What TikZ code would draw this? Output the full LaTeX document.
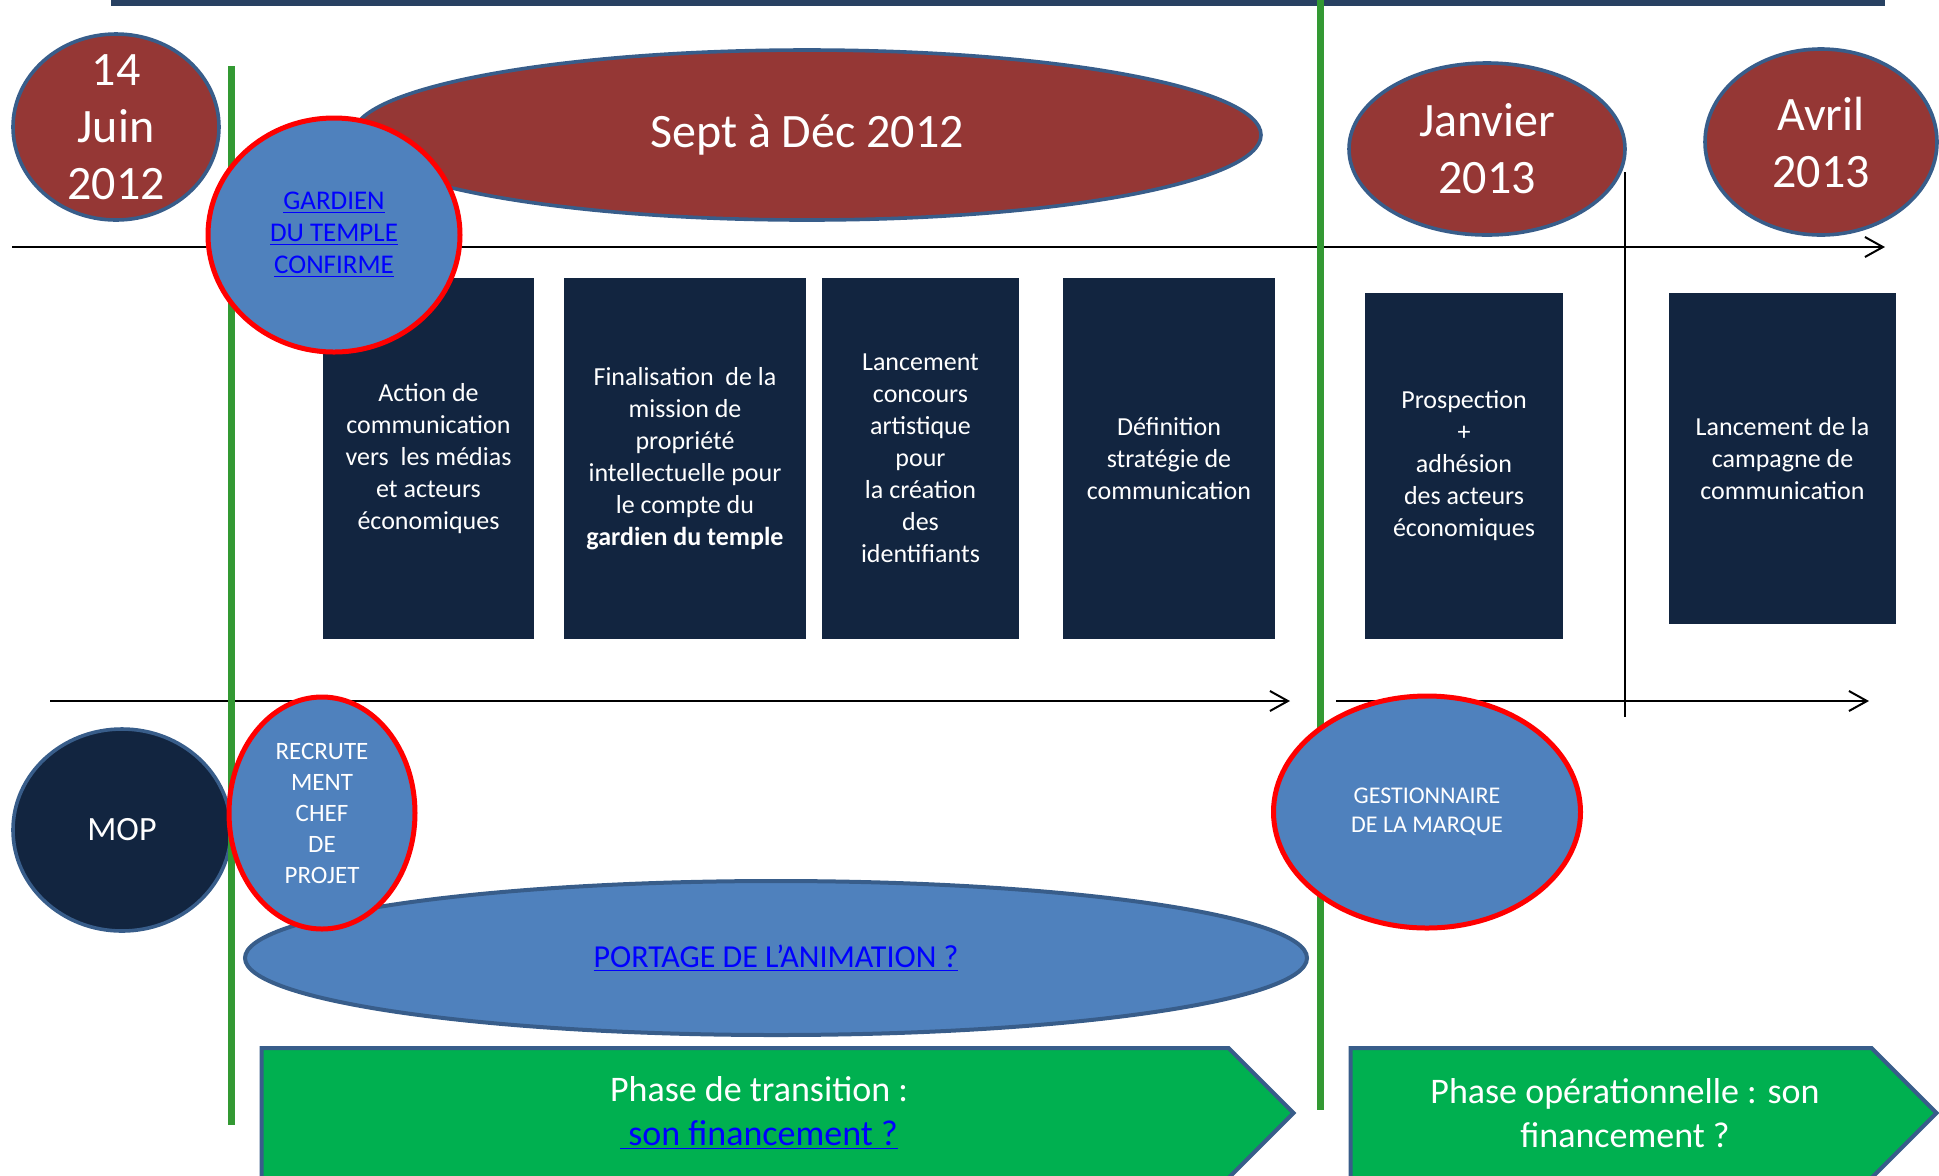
\documentclass[tikz,border=0pt]{standalone}
\usepackage{fontspec}
\setmainfont{Carlito}
\usetikzlibrary{shapes.geometric,shapes.symbols,arrows.meta}

\definecolor{datered}{RGB}{149,55,53}
\definecolor{rimblue}{RGB}{56,93,138}
\definecolor{softblue}{RGB}{79,129,189}
\definecolor{navy}{RGB}{18,37,64}
\definecolor{phasegreen}{RGB}{0,176,80}
\definecolor{linegreen}{RGB}{51,153,51}
\definecolor{barblue}{RGB}{40,65,98}
\definecolor{linkblue}{RGB}{0,0,255}

\newcommand{\lnk}[1]{\underline{#1}}

\tikzset{
  bubble/.style={ellipse,fill=datered,draw=rimblue,line width=1.8pt,inner sep=0pt},
  bubtext/.style={text=white,align=center,inner sep=0pt,font=\fontsize{24}{28.5}\selectfont},
  actor/.style={ellipse,fill=softblue,draw=red,line width=2.5pt,inner sep=0pt,align=center},
  taskbox/.style={fill=navy,text=white,align=center,inner sep=0pt,font=\fontsize{13}{16}\selectfont},
  phase/.style={signal,signal to=east,signal pointer angle=90,fill=phasegreen,draw=rimblue,
    line width=2pt,inner sep=0pt},
  phasetext/.style={text=white,align=center,inner sep=0pt,font=\fontsize{18}{22}\selectfont},
  guide/.style={linegreen,line width=3.5pt},
}

\begin{document}
\begin{tikzpicture}
        [x=0.5pt,y=-0.5pt,>={Straight Barb[length=9pt,width=10pt]}]
        \useasboundingbox (0,0) rectangle (1939,1175);

        \coordinate (top0) at (12,247);
        \coordinate (top1) at (1885,247);
        \coordinate (mid0) at (50,701);
        \coordinate (mid1) at (1290,701);
        \coordinate (mid2) at (1336,701);
        \coordinate (mid3) at (1869,701);
        \coordinate (tick0) at (1625,172);
        \coordinate (tick1) at (1625,717);
        \coordinate (g1a) at (231,66);
        \coordinate (g1b) at (231,1125);
        \coordinate (g2a) at (1320,0);
        \coordinate (g2b) at (1320,1110);

        \fill[barblue] (111,0) rectangle (1885,6);

        \draw[->,line width=1pt] (top0) -- (top1);
        \draw[->,line width=1pt] (mid0) -- (mid1);
        \draw[->,line width=1pt] (mid2) -- (mid3);
        \draw[line width=0.8pt] (tick0) -- (tick1);

        \node[bubble,minimum width=454pt,minimum height=85pt] (sept) at (807,135) {};
        \node[bubtext] (sept-t) at (sept) {Sept à Déc 2012};
        \node[bubble,minimum width=103pt,minimum height=93pt] (juin) at (116,127) {};
        \node[bubtext] (juin-t) at (juin) {14\\Juin\\2012};
        \node[bubble,minimum width=138pt,minimum height=86pt] (janv) at (1487,149) {};
        \node[bubtext] (janv-t) at (janv) {Janvier\\2013};
        \node[bubble,minimum width=116pt,minimum height=93pt] (avril) at (1821,142) {};
        \node[bubtext] (avril-t) at (avril) {Avril\\2013};

        \node[taskbox,minimum width=105.5pt,minimum height=180.5pt] (action) at (428.5,458.5)
          {Action de\\communication\\vers~ les médias\\et acteurs\\économiques};
        \node[taskbox,minimum width=121pt,minimum height=180.5pt] (finale) at (685,458.5)
          {Finalisation~ de la\\mission de\\propriété\\intellectuelle pour\\le compte du\\\textbf{gardien du temple}};
        \node[taskbox,minimum width=98.5pt,minimum height=180.5pt] (concours) at (920.5,458.5)
          {Lancement\\concours\\artistique\\pour\\la création\\des\\identifiants};
        \node[taskbox,minimum width=106pt,minimum height=180.5pt] (strat) at (1169,458.5)
          {Définition\\stratégie de\\communication};
        \node[taskbox,minimum width=99pt,minimum height=173pt] (prosp) at (1464,466)
          {Prospection\\+\\adhésion\\des acteurs\\économiques};
        \node[taskbox,minimum width=113.5pt,minimum height=165.5pt] (campagne) at (1782.5,458.5)
          {Lancement de la\\campagne de\\communication};

        \node[ellipse,fill=navy,draw=rimblue,line width=1.8pt,minimum width=109pt,minimum height=101pt,
          text=white,font=\fontsize{17}{20}\selectfont] (mop) at (122,830) {MOP};

        \draw[guide] (g1a) -- (g1b);
        \draw[guide] (g2a) -- (g2b);

        \node[actor,minimum width=126pt,minimum height=117pt,text=linkblue,
          font=\fontsize{13.5}{16}\selectfont] (gardien) at (334,235)
          {\lnk{GARDIEN}\\\lnk{DU TEMPLE}\\\lnk{CONFIRME}};

        \node[ellipse,fill=softblue,draw=rimblue,line width=2pt,minimum width=531pt,minimum height=77pt,
          text=linkblue,font=\fontsize{16}{20}\selectfont] (portage) at (776,958)
          {\lnk{PORTAGE DE L’ANIMATION ?}};
        \node[actor,minimum width=93pt,minimum height=116pt,text=white,
          font=\fontsize{12.5}{15.5}\selectfont] (recrute) at (322,813)
          {RECRUTE\\MENT\\CHEF\\DE\\PROJET};
        \node[actor,minimum width=153.5pt,minimum height=116pt,text=white,
          font=\fontsize{12}{14.5}\selectfont] (gestion) at (1427,812)
          {GESTIONNAIRE\\DE LA MARQUE};

        \node[phase,minimum width=516pt,minimum height=65pt] (transit) at (745,1113) {};
        \node[phasetext] (transit-t) at ([xshift=7pt]transit.center)
          {Phase de transition :\\\textcolor{linkblue}{\lnk{~son financement ?}}};
        \node[phase,minimum width=293pt,minimum height=65pt] (operat) at (1611,1113) {};
        \node[phasetext] (operat-t) at ([xshift=7pt]operat.center)
          {Phase opérationnelle : son\\financement ?};
      \end{tikzpicture}
\end{document}
